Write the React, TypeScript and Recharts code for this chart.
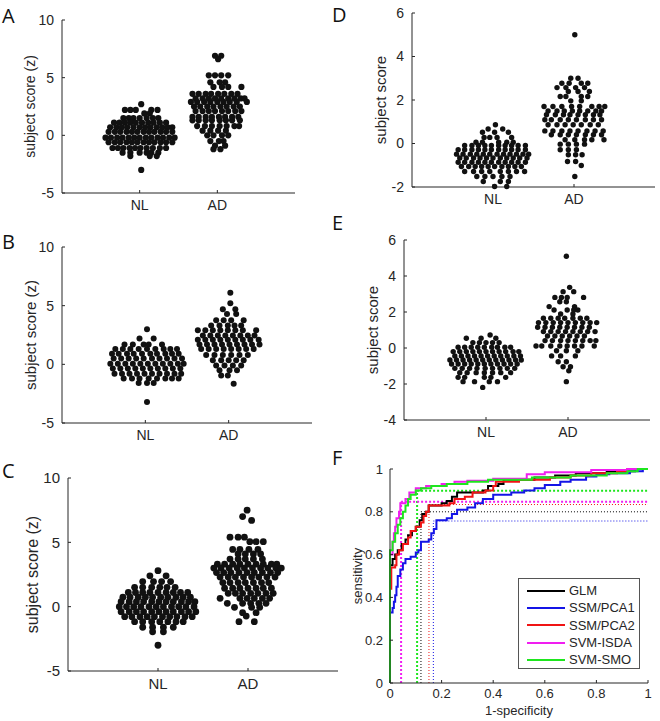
import React from 'react'
import { ScatterChart, Scatter, LineChart, Line, XAxis, YAxis, ReferenceLine, Legend } from 'recharts'

const groups = ['NL', 'AD']

// swarm rows: [score, horizontal offsets of the dots from the group centre...]
const aNL = [
  [2.7, 0.02],
  [2.2, -0.19, -0.12, -0.05, 0.15, 0.23],
  [1.9, 0.06, 0.13],
  [1.5, -0.21, -0.14, -0.08, 0, 0.09, 0.17, 0.24],
  [1.1, -0.33, -0.26, -0.19, -0.12, -0.05, 0.03, 0.11, 0.18, 0.26, 0.34],
  [0.7, -0.38, -0.3, -0.23, -0.16, -0.08, 0, 0.07, 0.14, 0.22, 0.29, 0.36, 0.42],
  [0.3, -0.4, -0.32, -0.25, -0.17, -0.1, -0.03, 0.05, 0.12, 0.19, 0.27, 0.34, 0.42],
  [-0.2, -0.44, -0.37, -0.29, -0.22, -0.14, -0.07, 0, 0.08, 0.15, 0.23, 0.3, 0.38, 0.45],
  [-0.6, -0.4, -0.32, -0.25, -0.17, -0.1, -0.03, 0.05, 0.12, 0.19, 0.27, 0.34, 0.42],
  [-1.1, -0.35, -0.28, -0.21, -0.13, -0.06, 0.01, 0.09, 0.17, 0.26, 0.34],
  [-1.5, -0.22, -0.12, 0, 0.09, 0.15, 0.24],
  [-1.8, -0.12, 0.13, 0.22],
  [-3.0, 0.02],
]
const aAD = [
  [6.9, -0.03, 0.05],
  [6.6, 0.01],
  [5.2, -0.11, -0.03, 0.05, 0.14],
  [4.6, -0.09, 0.03, 0.1],
  [4.2, -0.05, 0.06, 0.14, 0.31],
  [3.6, -0.32, -0.24, -0.15, -0.08, 0.01, 0.09, 0.18, 0.26],
  [3.2, -0.28, -0.19, -0.11, -0.03, 0.05, 0.14, 0.22, 0.3, 0.35],
  [2.9, -0.34, -0.26, -0.17, -0.09, 0, 0.08, 0.16, 0.25, 0.38],
  [2.5, -0.3, -0.22, -0.13, -0.05, 0.04, 0.12, 0.21, 0.29],
  [2.1, -0.28, -0.19, -0.11, -0.03, 0.06, 0.14, 0.23, 0.31],
  [1.6, -0.32, -0.24, -0.15, -0.07, 0.02, 0.1, 0.19, 0.27],
  [1.3, -0.32, -0.24, -0.15, -0.07, 0.03, 0.11, 0.19, 0.29],
  [0.8, -0.26, -0.16, -0.07, 0.03, 0.12, 0.22, 0.28],
  [0.4, -0.19, -0.09, 0.01, 0.11],
  [0.0, -0.13, -0.05, 0.06, 0.14],
  [-0.5, -0.09, 0.02, 0.08],
  [-0.9, -0.03, 0.1],
  [-1.2, -0.05, 0.04],
]

const bNL = [
  [3.0, 0.02],
  [2.2, -0.07, 0.1],
  [1.7, -0.25, -0.15, -0.02, 0.04, 0.2],
  [1.3, -0.36, -0.27, -0.18, -0.08, 0.02, 0.12, 0.22, 0.3, 0.38],
  [0.9, -0.4, -0.32, -0.22, -0.14, -0.04, 0.06, 0.14, 0.24, 0.32, 0.4],
  [0.5, -0.38, -0.29, -0.2, -0.11, -0.02, 0.08, 0.17, 0.26, 0.35, 0.44],
  [0.05, -0.42, -0.33, -0.24, -0.15, -0.06, 0.03, 0.12, 0.21, 0.3, 0.39, 0.46],
  [-0.35, -0.39, -0.3, -0.21, -0.12, -0.03, 0.06, 0.15, 0.24, 0.33, 0.42],
  [-0.8, -0.37, -0.28, -0.19, -0.1, -0.01, 0.08, 0.17, 0.26, 0.35, 0.43],
  [-1.2, -0.26, -0.16, -0.07, 0.04, 0.14, 0.24, 0.32, 0.4],
  [-1.6, -0.08, 0.02, 0.1],
  [-3.2, 0.02],
]
const bAD = [
  [6.1, 0.02],
  [5.2, 0.02],
  [4.7, -0.07, 0.08],
  [4.3, -0.02, 0.09],
  [3.75, -0.15, -0.06, 0.03, 0.18],
  [3.3, -0.21, -0.11, -0.01, 0.07, 0.15],
  [2.9, -0.37, -0.28, -0.19, -0.1, -0.01, 0.08, 0.17, 0.33],
  [2.45, -0.31, -0.22, -0.13, -0.04, 0.05, 0.14, 0.23, 0.31],
  [2.1, -0.37, -0.28, -0.19, -0.1, -0.01, 0.08, 0.17, 0.26, 0.36],
  [1.7, -0.35, -0.26, -0.17, -0.08, 0.01, 0.1, 0.19, 0.28, 0.37],
  [1.3, -0.33, -0.24, -0.15, -0.06, 0.03, 0.12, 0.21, 0.3],
  [0.8, -0.27, -0.17, -0.07, 0.03, 0.13, 0.23],
  [0.35, -0.19, -0.09, 0, 0.09, 0.18],
  [-0.1, -0.15, -0.05, 0.05, 0.15],
  [-0.5, -0.11, 0.01, 0.1],
  [-0.95, -0.09, -0.01],
  [-1.65, 0.06],
]

const cNL = [
  [2.8, 0],
  [2.4, -0.09, 0.09],
  [1.95, -0.17, -0.05, 0.04, 0.14],
  [1.5, -0.26, -0.17, -0.07, 0.02, 0.1, 0.19],
  [1.1, -0.33, -0.25, -0.17, -0.09, 0, 0.09, 0.17, 0.25, 0.33],
  [0.73, -0.39, -0.31, -0.22, -0.14, -0.06, 0.03, 0.11, 0.2, 0.28, 0.36],
  [0.39, -0.41, -0.32, -0.24, -0.16, -0.07, 0.01, 0.09, 0.17, 0.26, 0.34, 0.41],
  [0, -0.43, -0.35, -0.27, -0.19, -0.1, -0.02, 0.06, 0.15, 0.23, 0.31, 0.4],
  [-0.39, -0.41, -0.32, -0.24, -0.16, -0.07, 0.01, 0.09, 0.17, 0.26, 0.34, 0.42],
  [-0.78, -0.37, -0.29, -0.2, -0.12, -0.04, 0.05, 0.13, 0.21, 0.3, 0.38],
  [-1.17, -0.26, -0.17, -0.07, 0.02, 0.11, 0.2, 0.28],
  [-1.6, -0.17, -0.06, 0.06, 0.17],
  [-1.95, -0.06, 0.06],
  [-3.0, 0],
]
const cAD = [
  [7.5, -0.01],
  [7.0, -0.06],
  [6.7, 0.04],
  [5.4, -0.2, -0.11, -0.04],
  [5.05, 0.02, 0.09, 0.17],
  [4.45, -0.17, -0.09, 0.01, 0.11],
  [4.1, -0.11, -0.03, 0.06, 0.14],
  [3.7, -0.2, -0.11, -0.03, 0.06, 0.16],
  [3.3, -0.34, -0.26, -0.17, -0.09, 0, 0.09, 0.17, 0.26, 0.32],
  [3.0, -0.38, -0.3, -0.21, -0.12, -0.04, 0.05, 0.14, 0.22, 0.31, 0.37],
  [2.65, -0.35, -0.27, -0.19, -0.1, -0.01, 0.07, 0.16, 0.25, 0.33],
  [2.3, -0.31, -0.22, -0.14, -0.05, 0.04, 0.12, 0.21, 0.3],
  [1.87, -0.28, -0.2, -0.11, -0.03, 0.06, 0.15, 0.23],
  [1.43, -0.26, -0.17, -0.09, 0, 0.09, 0.17, 0.26],
  [1.04, -0.22, -0.14, -0.06, 0.03, 0.11, 0.2, 0.28],
  [0.65, -0.31, -0.09, -0.01, 0.07, 0.16, 0.24],
  [0.26, -0.23, -0.06, 0.03, 0.12, 0.2],
  [-0.05, -0.15, 0.04, 0.13],
  [-0.47, -0.06, 0.09],
  [-0.73, -0.02],
  [-1.17, -0.1, 0.07],
]

const dNL = [
  [0.86, 0.03],
  [0.67, -0.06, 0.12],
  [0.52, -0.13, 0.02, 0.19],
  [0.28, -0.11, -0.04, 0.05, 0.23],
  [0.06, -0.21, -0.13, 0.07, 0.17, 0.25],
  [-0.09, -0.35, -0.26, -0.18, -0.1, -0.02, 0.07, 0.15, 0.23, 0.31, 0.4],
  [-0.29, -0.43, -0.35, -0.26, -0.18, -0.1, -0.02, 0.07, 0.15, 0.23, 0.31, 0.4],
  [-0.49, -0.45, -0.37, -0.28, -0.2, -0.12, -0.04, 0.05, 0.13, 0.21, 0.29, 0.37, 0.44],
  [-0.67, -0.41, -0.33, -0.24, -0.16, -0.08, 0, 0.09, 0.17, 0.25, 0.33, 0.42],
  [-0.86, -0.43, -0.35, -0.26, -0.18, -0.1, -0.02, 0.07, 0.15, 0.23, 0.31, 0.4],
  [-1.06, -0.39, -0.3, -0.22, -0.14, -0.06, 0.02, 0.11, 0.19, 0.27, 0.35],
  [-1.29, -0.35, -0.24, -0.14, -0.04, 0.09, 0.19, 0.29, 0.39],
  [-1.52, -0.2, -0.1, 0, 0.11, 0.21],
  [-1.75, -0.12, 0.09, 0.19],
  [-1.98, 0.02, 0.17],
]
const dAD = [
  [5.0, 0.01],
  [3.0, -0.04, 0.05],
  [2.77, -0.15, -0.06, 0.09, 0.17],
  [2.57, -0.21, -0.1, 0.02, 0.13],
  [2.39, -0.07, 0.05, 0.19],
  [2.16, -0.17, -0.1, 0.09, 0.17],
  [1.96, -0.04, 0.09],
  [1.7, -0.37, -0.26, -0.15, -0.03, 0.07, 0.22, 0.31, 0.38],
  [1.5, -0.32, -0.21, -0.12, -0.02, 0.07, 0.17, 0.27, 0.34],
  [1.32, -0.34, -0.23, -0.13, -0.05, 0.05, 0.14, 0.24, 0.32],
  [1.09, -0.36, -0.28, -0.17, -0.07, 0.03, 0.14, 0.24, 0.34],
  [0.86, -0.32, -0.21, -0.11, -0.01, 0.09, 0.2, 0.3],
  [0.58, -0.36, -0.26, -0.15, -0.05, 0.05, 0.16, 0.26, 0.36],
  [0.4, -0.28, -0.17, -0.07, 0.03, 0.14, 0.24, 0.34],
  [0.17, -0.11, 0.01, 0.13, 0.22, 0.37],
  [-0.03, -0.17, -0.07, 0.03, 0.13],
  [-0.29, -0.17, -0.07, 0.03],
  [-0.52, -0.07, 0.02, 0.1],
  [-0.83, -0.08, 0.02],
  [-1.01, 0.09],
  [-1.52, 0.01],
]

const eNL = [
  [0.72, 0.05],
  [0.54, -0.24, -0.06, 0.12],
  [0.3, -0.16, -0.08, 0, 0.08, 0.16],
  [0.04, -0.34, -0.26, -0.18, -0.1, -0.02, 0.07, 0.14, 0.23, 0.3],
  [-0.2, -0.4, -0.32, -0.24, -0.16, -0.08, 0, 0.08, 0.16, 0.24, 0.33, 0.4],
  [-0.44, -0.38, -0.3, -0.22, -0.14, -0.06, 0.02, 0.1, 0.18, 0.26, 0.34, 0.42],
  [-0.67, -0.44, -0.36, -0.28, -0.2, -0.12, -0.04, 0.04, 0.12, 0.2, 0.28, 0.36, 0.43],
  [-0.89, -0.42, -0.34, -0.26, -0.18, -0.1, -0.02, 0.06, 0.14, 0.22, 0.3, 0.38],
  [-1.13, -0.38, -0.29, -0.2, -0.11, -0.01, 0.08, 0.17, 0.26, 0.35],
  [-1.37, -0.32, -0.23, -0.12, -0.02, 0.08, 0.18, 0.3],
  [-1.63, -0.34, -0.26, -0.02, 0.06, 0.24],
  [-1.87, -0.28, -0.14, 0.04, 0.14],
  [-2.19, -0.04],
]
const eAD = [
  [5.1, -0.02],
  [3.37, 0.02],
  [3.13, -0.06, 0.07],
  [2.81, -0.16, -0.08, -0.01, 0.19],
  [2.57, -0.1, -0.02],
  [2.3, -0.23, 0.08],
  [2.11, -0.17, -0.01, 0.07, 0.12],
  [1.89, -0.09, 0.06],
  [1.65, -0.3, -0.21, -0.12, -0.04, 0.06, 0.15, 0.23],
  [1.41, -0.36, -0.27, -0.18, -0.09, 0, 0.09, 0.18, 0.27, 0.35],
  [1.15, -0.37, -0.28, -0.19, -0.1, -0.01, 0.08, 0.17, 0.26],
  [0.91, -0.3, -0.21, -0.12, -0.03, 0.06, 0.15, 0.24, 0.33],
  [0.67, -0.25, -0.16, -0.07, 0.02, 0.11, 0.2],
  [0.41, -0.28, -0.19, -0.09, 0, 0.09, 0.18, 0.27, 0.34],
  [0.11, -0.39, -0.32, -0.21, -0.1, -0.01, 0.08, 0.17, 0.32],
  [-0.15, -0.14, -0.02, 0.12],
  [-0.44, -0.2, -0.09, 0.09],
  [-0.76, -0.12, -0.02],
  [-1.04, -0.06, 0.03],
  [-1.26, 0.01],
  [-1.87, -0.02],
]

// ROC curves: [1-specificity, sensitivity]
const rocGLM = [[0, 0], [0, 0.55], [0.01, 0.58], [0.02, 0.6], [0.03, 0.62], [0.045, 0.65], [0.06, 0.67], [0.07, 0.69], [0.085, 0.71], [0.1, 0.73], [0.115, 0.76], [0.125, 0.79], [0.14, 0.8], [0.15, 0.83], [0.2, 0.84], [0.22, 0.85], [0.24, 0.87], [0.26, 0.89], [0.36, 0.9], [0.38, 0.92], [0.42, 0.93], [0.44, 0.95], [0.56, 0.96], [0.64, 0.97], [0.72, 0.98], [0.84, 0.99], [0.95, 1], [1, 1]]
const rocPCA1 = [[0, 0], [0, 0.33], [0.01, 0.35], [0.015, 0.38], [0.02, 0.41], [0.025, 0.45], [0.03, 0.5], [0.04, 0.53], [0.05, 0.56], [0.06, 0.58], [0.08, 0.59], [0.1, 0.61], [0.11, 0.62], [0.12, 0.66], [0.15, 0.67], [0.16, 0.7], [0.17, 0.72], [0.18, 0.76], [0.22, 0.77], [0.24, 0.79], [0.26, 0.81], [0.3, 0.82], [0.33, 0.84], [0.36, 0.86], [0.4, 0.88], [0.47, 0.89], [0.52, 0.9], [0.56, 0.91], [0.6, 0.925], [0.66, 0.94], [0.7, 0.95], [0.76, 0.965], [0.8, 0.975], [0.85, 0.98], [0.93, 0.99], [0.98, 1], [1, 1]]
const rocPCA2 = [[0, 0], [0, 0.44], [0.005, 0.54], [0.02, 0.55], [0.025, 0.6], [0.035, 0.62], [0.05, 0.65], [0.07, 0.68], [0.08, 0.71], [0.1, 0.73], [0.12, 0.75], [0.13, 0.78], [0.14, 0.8], [0.15, 0.83], [0.23, 0.84], [0.25, 0.86], [0.29, 0.87], [0.32, 0.89], [0.37, 0.9], [0.4, 0.92], [0.41, 0.94], [0.5, 0.95], [0.62, 0.96], [0.7, 0.97], [0.78, 0.98], [0.88, 0.99], [0.92, 1], [1, 1]]
const rocISDA = [[0, 0], [0, 0.6], [0.01, 0.66], [0.015, 0.7], [0.02, 0.73], [0.025, 0.77], [0.035, 0.8], [0.04, 0.84], [0.06, 0.86], [0.075, 0.89], [0.1, 0.91], [0.14, 0.92], [0.2, 0.93], [0.25, 0.94], [0.3, 0.945], [0.4, 0.955], [0.53, 0.975], [0.6, 0.985], [0.78, 0.995], [0.92, 1], [1, 1]]
const rocSMO = [[0, 0], [0, 0.62], [0.01, 0.66], [0.02, 0.7], [0.03, 0.74], [0.04, 0.77], [0.05, 0.8], [0.06, 0.83], [0.07, 0.86], [0.08, 0.88], [0.1, 0.9], [0.12, 0.91], [0.16, 0.92], [0.22, 0.93], [0.3, 0.94], [0.38, 0.95], [0.55, 0.96], [0.7, 0.97], [0.84, 0.98], [0.92, 0.99], [0.96, 1], [1, 1]]

const modelNames = ['GLM', 'SSM/PCA1', 'SSM/PCA2', 'SVM-ISDA', 'SVM-SMO']
const modelColors = ['#000000', '#1414e6', '#f01414', '#f01ef0', '#1ee61e']
const rocCurves = [rocGLM, rocPCA1, rocPCA2, rocISDA, rocSMO]
// operating points marked with dotted lines
const cutFpr = [0.12, 0.168, 0.151, 0.043, 0.105]
const cutTpr = [0.8, 0.757, 0.834, 0.847, 0.898]

const rocTicks = [0, 0.2, 0.4, 0.6, 0.8, 1]

const INK = '#262626'

const toPoints = (rows: number[][], centre: number) =>
  rows.flatMap(([y, ...dx]) => dx.map(d => ({ x: centre + d, y })))

const AxisTitle = ({ caption, posX, posY, fontPx, vertical }: any) => (
  <text
    x={posX}
    y={posY}
    transform={vertical ? `rotate(-90 ${posX} ${posY})` : undefined}
    textAnchor="middle"
    dominantBaseline="central"
    fontSize={fontPx}
    fill={INK}
  >
    {caption}
  </text>
)

function Swarm({ box, nl, ad, yDomain, yTicks, title, titleX, font, tickFont, r }: any) {
  const yw = 50
  const mt = 8
  const mr = 8
  const xh = 30
  const left = box.x - yw
  const data = [...toPoints(nl, 1), ...toPoints(ad, 2)]
  return (
    <div style={{ position: 'absolute', left, top: box.y - mt }}>
      <ScatterChart
        width={box.w + yw + mr}
        height={box.h + mt + xh}
        margin={{ top: mt, right: mr, left: 0, bottom: 0 }}
      >
        <XAxis
          type="number"
          dataKey="x"
          domain={[0, 3]}
          ticks={[1, 2]}
          interval={0}
          tickFormatter={(v: number) => groups[v - 1]}
          height={xh}
          tickSize={-3}
          tickMargin={10}
          stroke={INK}
          tick={{ fontSize: tickFont, fill: INK }}
        />
        <YAxis
          type="number"
          dataKey="y"
          domain={yDomain}
          ticks={yTicks}
          interval={0}
          width={yw}
          tickSize={-3}
          tickMargin={11}
          stroke={INK}
          tick={{ fontSize: tickFont, fill: INK }}
          label={<AxisTitle caption={title} posX={titleX - left} posY={mt + box.h / 2} fontPx={font} vertical />}
        />
        <Scatter
          data={data}
          fill="#111"
          isAnimationActive={false}
          shape={(p: any) => <circle cx={p.cx} cy={p.cy} r={r} fill="#111" />}
        />
      </ScatterChart>
    </div>
  )
}

const RocLegend = () => (
  <div
    style={{
      width: 122,
      height: 91,
      boxSizing: 'border-box',
      border: '1px solid #555',
      background: '#fff',
      padding: '3px 0 0 8px',
      fontSize: 13,
      color: INK,
    }}
  >
    {modelNames.map((name, i) => (
      <div key={name} style={{ display: 'flex', alignItems: 'center', height: 17.3 }}>
        <span style={{ width: 38, borderTop: `2.5px solid ${modelColors[i]}`, marginRight: 4 }} />
        {name}
      </div>
    ))}
  </div>
)

function RocPanel() {
  const box = { x: 390, y: 469, w: 258, h: 214 }
  const yw = 40
  const mt = 8
  const mr = 8
  const xh = 38
  const left = box.x - yw
  const top = box.y - mt
  return (
    <div style={{ position: 'absolute', left, top }}>
      <LineChart width={box.w + yw + mr} height={box.h + mt + xh} margin={{ top: mt, right: mr, left: 0, bottom: 0 }}>
        <XAxis
          type="number"
          dataKey="x"
          domain={[0, 1]}
          ticks={rocTicks}
          interval={0}
          height={xh}
          tickSize={-3}
          tickMargin={9}
          stroke={INK}
          tick={{ fontSize: 13, fill: INK }}
          label={<AxisTitle caption="1-specificity" posX={box.w / 2 + yw} posY={mt + box.h + 27} fontPx={13} />}
        />
        <YAxis
          type="number"
          domain={[0, 1]}
          ticks={rocTicks}
          interval={0}
          width={yw}
          tickSize={-3}
          tickMargin={10}
          stroke={INK}
          tick={{ fontSize: 13, fill: INK }}
          label={<AxisTitle caption="sensitivity" posX={357 - left} posY={mt + box.h / 2} fontPx={13} vertical />}
        />
        {cutFpr.map((fx, i) => (
          <ReferenceLine
            key={`v${i}`}
            segment={[{ x: fx, y: 0 }, { x: fx, y: cutTpr[i] }]}
            stroke={modelColors[i]}
            strokeWidth={i >= 3 ? 2 : 1}
            strokeDasharray={i >= 3 ? '2 2' : '1 2'}
          />
        ))}
        {cutFpr.map((fx, i) => (
          <ReferenceLine
            key={`h${i}`}
            segment={[{ x: fx, y: cutTpr[i] }, { x: 1, y: cutTpr[i] }]}
            stroke={modelColors[i]}
            strokeWidth={i >= 3 ? 2 : 1}
            strokeDasharray={i >= 3 ? '2 2' : '1 2'}
          />
        ))}
        {rocCurves.map((c, i) => (
          <Line
            key={modelNames[i]}
            name={modelNames[i]}
            data={c.map(([x, y]) => ({ x, y }))}
            dataKey="y"
            type="stepAfter"
            stroke={modelColors[i]}
            strokeWidth={2}
            dot={false}
            isAnimationActive={false}
          />
        ))}
        <Legend
          layout="vertical"
          align="center"
          verticalAlign="middle"
          content={() => <RocLegend />}
          wrapperStyle={{ left: 518 - left, top: 578 - top, width: 122, height: 91 }}
        />
      </LineChart>
    </div>
  )
}

const letters = [
  { t: 'A', x: 2, y: 23 },
  { t: 'B', x: 2, y: 249 },
  { t: 'C', x: 2, y: 478 },
  { t: 'D', x: 332, y: 22 },
  { t: 'E', x: 332, y: 230 },
  { t: 'F', x: 332, y: 465 },
]

export default function App() {
  return (
    <div
      style={{
        position: 'absolute',
        left: 0,
        top: 0,
        width: 660,
        height: 721,
        overflow: 'hidden',
        background: '#fff',
        fontFamily: "'Liberation Sans', Arial, sans-serif",
      }}
    >
      <Swarm box={{ x: 62, y: 20, w: 233, h: 173 }} nl={aNL} ad={aAD} yDomain={[-5, 10]} yTicks={[-5, 0, 5, 10]}
        title="subject score (z)" titleX={30} font={14} tickFont={14} r={3.1} />
      <Swarm box={{ x: 62, y: 247, w: 250, h: 176 }} nl={bNL} ad={bAD} yDomain={[-5, 10]} yTicks={[-5, 0, 5, 10]}
        title="subject score (z)" titleX={30} font={15} tickFont={14} r={3.0} />
      <Swarm box={{ x: 68, y: 478, w: 270, h: 193 }} nl={cNL} ad={cAD} yDomain={[-5, 10]} yTicks={[-5, 0, 5, 10]}
        title="subject score (z)" titleX={32} font={16} tickFont={15} r={3.4} />
      <Swarm box={{ x: 412, y: 13, w: 243, h: 174 }} nl={dNL} ad={dAD} yDomain={[-2, 6]} yTicks={[-2, 0, 2, 4, 6]}
        title="subject score" titleX={380} font={15} tickFont={14} r={2.7} />
      <Swarm box={{ x: 404, y: 240, w: 246, h: 180 }} nl={eNL} ad={eAD} yDomain={[-4, 6]} yTicks={[-4, -2, 0, 2, 4, 6]}
        title="subject score" titleX={372} font={15} tickFont={14} r={2.7} />
      <RocPanel />
      <svg width={660} height={721} style={{ position: 'absolute', left: 0, top: 0, pointerEvents: 'none' }}>
        {letters.map(l => (
          <text key={l.t} x={l.x} y={l.y} fontSize={20} fontFamily="'Open Sans', 'Noto Sans', sans-serif" fill="#111">
            {l.t}
          </text>
        ))}
      </svg>
    </div>
  )
}
